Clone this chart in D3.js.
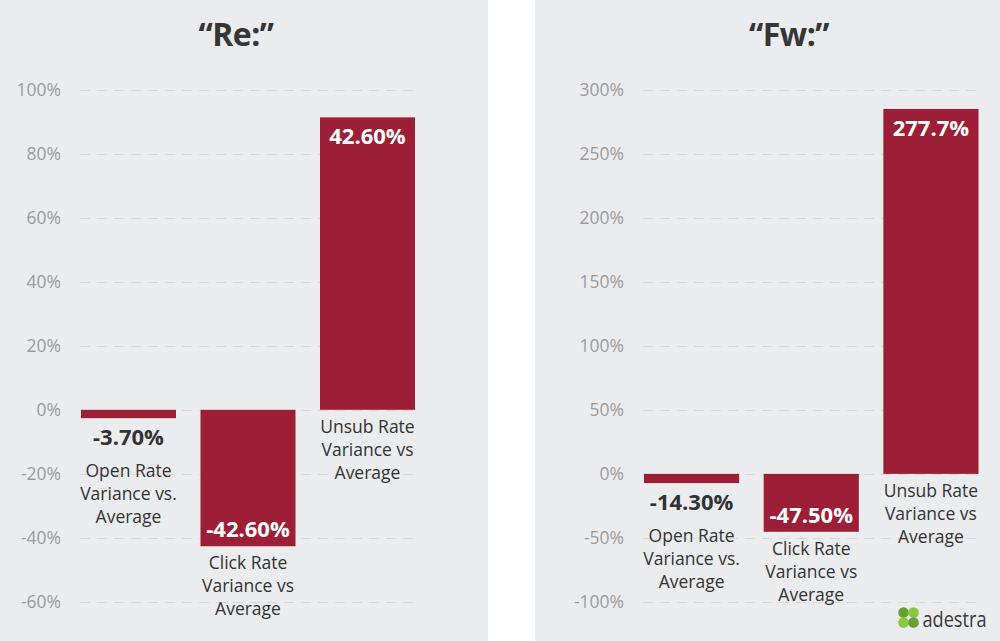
<!DOCTYPE html>
<html>
<head>
<meta charset="utf-8">
<script src="https://cdn.jsdelivr.net/npm/d3@7"></script>
<style>
  html, body { margin: 0; padding: 0; background: #ffffff; }
  svg { display: block; }
  text { font-family: "Open Sans", "DejaVu Sans", sans-serif; }
</style>
</head>
<body>
<svg id="chart" width="1000" height="641"></svg>
<script>
// ---------------- DATA ----------------
const categories = ["Open Rate Variance vs. Average", "Click Rate Variance vs Average", "Unsub Rate Variance vs Average"];
const categoryLines = [["Open Rate", "Variance vs.", "Average"], ["Click Rate", "Variance vs", "Average"], ["Unsub Rate", "Variance vs", "Average"]];

const reTitle = "\u201CRe:\u201D";
const reValues = [-2.6, -42.6, 91.3];          // bar heights as drawn
const reLabels = ["-3.70%", "-42.60%", "42.60%"]; // printed labels
const reTicks = [-60, -40, -20, 0, 20, 40, 60, 80, 100];
const reDomain = [-60, 100];

const fwTitle = "\u201CFw:\u201D";
const fwValues = [-7.2, -45.2, 284.8];
const fwLabels = ["-14.30%", "-47.50%", "277.7%"];
const fwTicks = [-100, -50, 0, 50, 100, 150, 200, 250, 300];
const fwDomain = [-100, 300];

// ---------------- STYLE / LAYOUT ----------------
const BAR = "#9c1f37";
const PANEL_BG = "#ebecee";
const svg = d3.select("#chart");

const panels = [
  { x0: 0, x1: 488, plotL: 81, plotR: 415, gridL: 80, titleX: 236, title: reTitle, values: reValues, labels: reLabels, ticks: reTicks, domain: reDomain },
  { x0: 535, x1: 1000, plotL: 644, plotR: 978.5, gridL: 643, titleX: 789, title: fwTitle, values: fwValues, labels: fwLabels, ticks: fwTicks, domain: fwDomain }
];

panels.forEach(p => {
  const g = svg.append("g");
  g.append("rect").attr("x", p.x0).attr("y", 0).attr("width", p.x1 - p.x0).attr("height", 641).attr("fill", PANEL_BG);

  g.append("text").attr("x", p.titleX).attr("y", 46).attr("text-anchor", "middle")
    .attr("font-size", 32).attr("font-weight", 700).attr("fill", "#363636").attr("letter-spacing", -0.5)
    .text(p.title);

  const y = d3.scaleLinear().domain(p.domain).range([602, 89.5]);
  const x = d3.scaleBand().domain(categories).range([p.plotL, p.plotR]).paddingInner(0.205).paddingOuter(0);

  // gridlines
  g.append("g").selectAll("line").data(p.ticks).join("line")
    .attr("x1", p.gridL).attr("x2", p.plotR)
    .attr("y1", d => Math.round(y(d)) + 0.5).attr("y2", d => Math.round(y(d)) + 0.5)
    .attr("stroke", "#d6d7d9").attr("stroke-width", 1).attr("stroke-dasharray", "10,7");

  // axis
  const axis = d3.axisLeft(y).tickValues(p.ticks).tickSize(0).tickPadding(0).tickFormat(d => d + "%");
  const ag = g.append("g").attr("transform", `translate(${p.plotL - 20},0)`).call(axis);
  ag.select(".domain").remove();
  ag.selectAll("text").attr("font-size", 17.5).attr("fill", "#9a9b9d").attr("font-family", "\"Open Sans\", sans-serif");

  // bars
  const data = categories.map((c, i) => ({ c, v: p.values[i], label: p.labels[i], lines: categoryLines[i] }));
  g.append("g").selectAll("rect").data(data).join("rect")
    .attr("x", d => x(d.c)).attr("width", x.bandwidth())
    .attr("y", d => Math.min(y(0), y(d.v)))
    .attr("height", d => Math.abs(y(d.v) - y(0)))
    .attr("fill", BAR);

  // value labels + category labels
  data.forEach(d => {
    const cx = x(d.c) + x.bandwidth() / 2;
    const h = Math.abs(y(d.v) - y(0));
    const neg = d.v < 0;
    let catStart;
    if (h > 40) {
      const vy = neg ? y(d.v) - 9 : y(d.v) + 27;
      g.append("text").attr("x", cx).attr("y", vy).attr("text-anchor", "middle")
        .attr("font-size", 22).attr("font-weight", 700).attr("fill", "#ffffff").text(d.label);
      catStart = neg ? y(d.v) + 23 : y(0) + 23;
    } else {
      g.append("text").attr("x", cx).attr("y", y(d.v) + 27).attr("text-anchor", "middle")
        .attr("font-size", 22).attr("font-weight", 700).attr("fill", "#333333").text(d.label);
      catStart = y(d.v) + 59;
    }
    const t = g.append("text").attr("text-anchor", "middle").attr("font-size", 17.5).attr("fill", "#333333");
    d.lines.forEach((ln, j) => {
      t.append("tspan").attr("x", cx).attr("y", catStart + j * 23).text(ln);
    });
  });
});

// ---------------- LOGO ----------------
const logo = svg.append("g");
const dots = [
  { cx: 903.5, cy: 612.5, f: "#63a036" },
  { cx: 913.5, cy: 612.5, f: "#8dc63f" },
  { cx: 903.5, cy: 622.5, f: "#8dc63f" },
  { cx: 913.5, cy: 622.5, f: "#63a036" }
];
logo.selectAll("circle").data(dots).join("circle")
  .attr("cx", d => d.cx).attr("cy", d => d.cy).attr("r", 5.3).attr("fill", d => d.f);
logo.append("text").attr("x", 922.5).attr("y", 627).attr("font-size", 22)
  .attr("fill", "#3a3a3c").attr("textLength", 64).attr("lengthAdjust", "spacingAndGlyphs")
  .text("adestra");
</script>
</body>
</html>
